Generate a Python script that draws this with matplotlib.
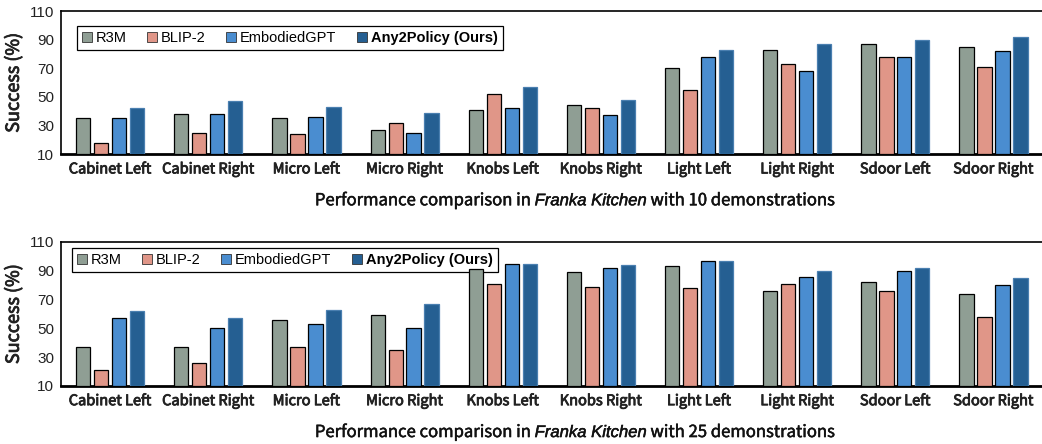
import numpy as np
import matplotlib
matplotlib.use("Agg")
import matplotlib.pyplot as plt
import matplotlib.patheffects as pe
from matplotlib.patches import Patch

plt.rcParams["mathtext.fontset"] = "custom"
plt.rcParams["mathtext.it"] = "Liberation Sans:italic"
plt.rcParams["mathtext.rm"] = "Noto Sans CJK SC"

tasks = ["Cabinet Left", "Cabinet Right", "Micro Left", "Micro Right", "Knobs Left",
         "Knobs Right", "Light Left", "Light Right", "Sdoor Left", "Sdoor Right"]
methods = ["R3M", "BLIP-2", "EmbodiedGPT", "Any2Policy (Ours)"]

# 10 demonstrations
r3m_10 = [35, 38, 35, 27, 41, 44, 70, 83, 87, 85]
blip_10 = [18, 25, 24, 32, 52, 42, 55, 73, 78, 71]
egpt_10 = [35, 38, 36, 25, 42, 37, 78, 68, 78, 82]
ours_10 = [42, 47, 43, 39, 57, 48, 83, 87, 90, 92]

# 25 demonstrations
r3m_25 = [37, 37, 56, 59, 91, 89, 93, 76, 82, 74]
blip_25 = [21, 26, 37, 35, 81, 79, 78, 81, 76, 58]
egpt_25 = [57, 50, 53, 50, 95, 92, 97, 86, 90, 80]
ours_25 = [62, 57, 63, 67, 95, 94, 97, 90, 92, 85]

colors = ["#8F9E94", "#E09688", "#4A8DD0", "#255F92"]
edges = ["black", "black", "black", "#4A7FB0"]

panels = [
    ([r3m_10, blip_10, egpt_10, ours_10], "10", [0.0586, 0.653, 0.942, 0.322], (0.016, 0.895)),
    ([r3m_25, blip_25, egpt_25, ours_25], "25", [0.0586, 0.131, 0.942, 0.324], (0.011, 0.958)),
]

fig = plt.figure(figsize=(10.42, 4.44), dpi=100)
x = np.arange(len(tasks))
pitch = 0.183
width = 0.145
semi = [pe.withStroke(linewidth=0.6, foreground="#222222")]
light = [pe.withStroke(linewidth=0.35, foreground="#111111")]

for series, ndemo, rect, legpos in panels:
    ax = fig.add_axes(rect)
    for k, vals in enumerate(series):
        ax.bar(x + (k - 1.5) * pitch, np.array(vals) - 10, width, bottom=10,
               color=colors[k], edgecolor=edges[k], linewidth=0.9, zorder=3)
    ax.set_xlim(-0.5, 9.5)
    ax.set_ylim(10, 110)
    ax.set_yticks([10, 30, 50, 70, 90, 110])
    ax.tick_params(axis="y", length=0, labelsize=11, pad=5, labelcolor="#222222")
    ax.tick_params(axis="x", length=0, pad=6)
    for lab in ax.get_yticklabels():
        lab.set_fontfamily("Liberation Sans")
    ax.set_xticks(x)
    ax.set_xticklabels(tasks, fontfamily="Noto Sans CJK SC", fontsize=10.5,
                       color="#222222", path_effects=semi)
    ax.set_ylabel("Success (%)", fontfamily="Noto Sans CJK SC", fontsize=13,
                  labelpad=5, color="#222222", path_effects=semi)
    ax.set_xlabel(r"Performance comparison in $Franka\ Kitchen$ with " + ndemo + " demonstrations",
                  fontfamily="Noto Sans CJK SC", fontsize=12, labelpad=10, color="#111111",
                  path_effects=light)
    ax.xaxis.label.set_x(0.524)
    ax.spines["right"].set_visible(False)
    ax.spines["bottom"].set_linewidth(2)
    ax.spines["left"].set_linewidth(1.2)
    ax.spines["top"].set_linewidth(1.2)

    handles = [Patch(facecolor=colors[k], edgecolor="#333333", linewidth=0.6) for k in range(4)]
    leg = ax.legend(handles, methods, ncol=4, loc="upper left", bbox_to_anchor=legpos,
                    borderaxespad=0, frameon=True, fancybox=False, edgecolor="black",
                    framealpha=1, handlelength=0.7, handleheight=0.7, handletextpad=0.25,
                    columnspacing=1.4, borderpad=0.35,
                    prop={"family": "Liberation Sans", "size": 10.5})
    leg.get_frame().set_linewidth(0.9)
    leg.get_texts()[3].set_fontweight("bold")
    leg.set_zorder(2)

fig.savefig("out.png", dpi=100)
